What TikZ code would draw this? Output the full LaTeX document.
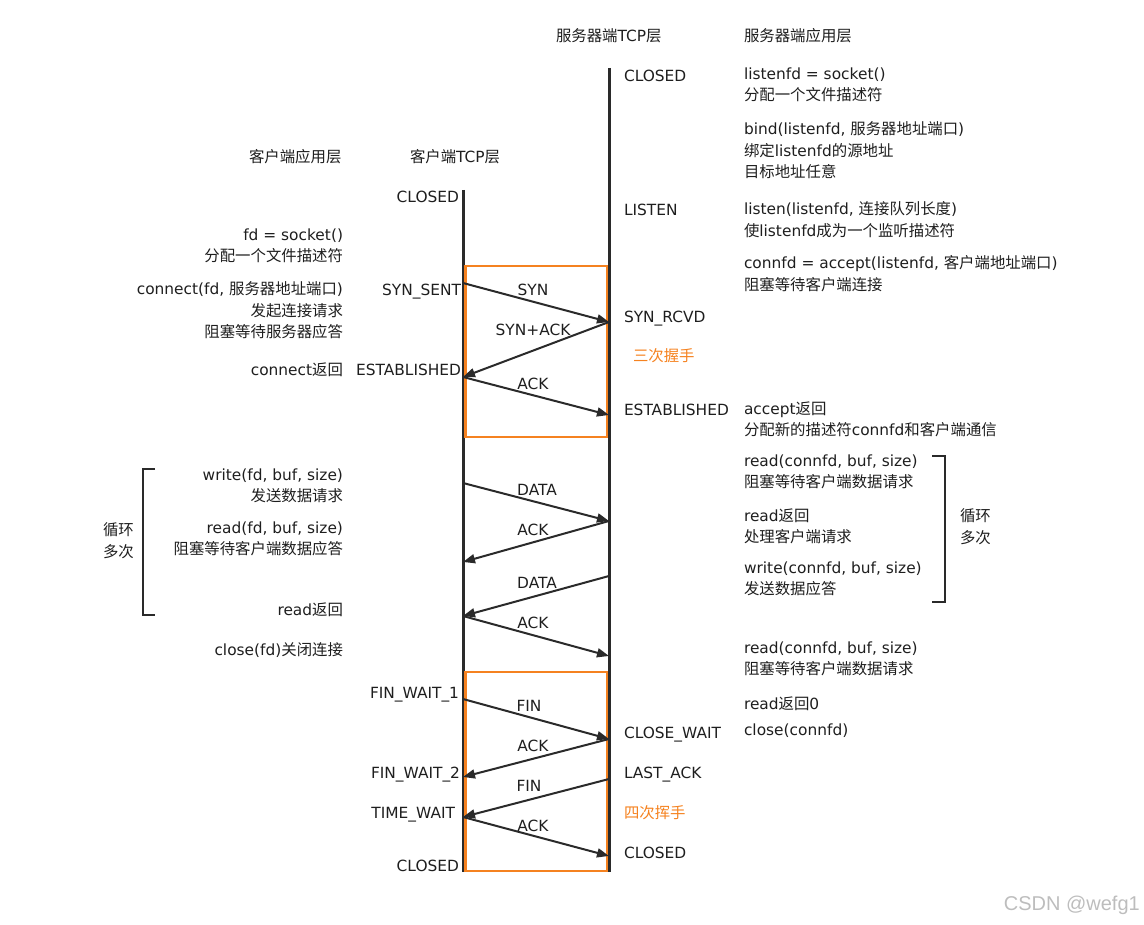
\documentclass[tikz,border=0pt]{standalone}
\usepackage{fontspec}
\setmainfont{DejaVu Sans}
\newfontfamily\cjk{Noto Sans CJK SC}
\newfontfamily\wmfont{Liberation Sans}
\usetikzlibrary{arrows.meta}
\newcommand\zh[1]{{\cjk #1}}
\newcommand\sr{\rule{0pt}{14pt}}
\definecolor{txt}{HTML}{1E1E1E}
\definecolor{ln}{HTML}{2A2A2A}
\definecolor{org}{HTML}{F58220}
\definecolor{wm}{HTML}{BDBDBD}
\begin{document}
\begin{tikzpicture}[x=1pt,y=-1pt,
  lbl/.style={inner sep=0pt, outer sep=0pt, font=\fontsize{15.4}{21.7}\selectfont, text=txt},
  lft/.style={lbl, align=left, anchor=north west, execute at begin node=\sr},
  rgt/.style={lbl, align=right, anchor=north east, execute at begin node=\sr},
  orangetxt/.style={lft, text=org},
  tcpline/.style={draw=ln, line width=3pt},
  msg/.style={draw=ln, line width=2pt, -{Triangle[length=12pt,width=9pt]}},
  hsbox/.style={draw=org, line width=2.4pt},
  brk/.style={draw=ln, line width=2pt},
]
\useasboundingbox (0,0) rectangle (1144,925);

% TCP life lines
\coordinate (ctop) at (463,190);
\coordinate (cbot) at (463,872);
\coordinate (stop) at (609,68);
\coordinate (sbot) at (609,872);
\draw[tcpline] (ctop) -- (cbot);
\draw[tcpline] (stop) -- (sbot);

% handshake boxes
\draw[hsbox] (465.5,266) rectangle (607,437);
\draw[hsbox] (465.5,672) rectangle (607,871);

% message end points
\coordinate (c1) at (463,283);
\coordinate (s1) at (609,322);
\coordinate (c2) at (463,377);
\coordinate (s2) at (609,415);
\coordinate (c3) at (463,483);
\coordinate (s3) at (609,521);
\coordinate (c4) at (463,562);
\coordinate (s4) at (609,576);
\coordinate (c5) at (463,616);
\coordinate (s5) at (609,656);
\coordinate (c6) at (463,699);
\coordinate (s6) at (609,739);
\coordinate (c7) at (463,777);
\coordinate (s7) at (609,779);
\coordinate (c8) at (463,817);
\coordinate (s8) at (609,856);

\draw[msg] (c1) -- (s1);
\draw[msg] (s1) -- (c2);
\draw[msg] (c2) -- (s2);
\draw[msg] (c3) -- (s3);
\draw[msg] (s3) -- (c4);
\draw[msg] (s4) -- (c5);
\draw[msg] (c5) -- (s5);
\draw[msg] (c6) -- (s6);
\draw[msg] (s6) -- (c7);
\draw[msg] (s7) -- (c8);
\draw[msg] (c8) -- (s8);

% message labels
\node[lbl] (m1) at (533,290) {SYN};
\node[lbl] (m2) at (533,330) {SYN+ACK};
\node[lbl] (m3) at (533,384) {ACK};
\node[lbl] (m4) at (537,490) {DATA};
\node[lbl] (m5) at (533,530) {ACK};
\node[lbl] (m6) at (537,583) {DATA};
\node[lbl] (m7) at (533,623) {ACK};
\node[lbl] (m8) at (529,706) {FIN};
\node[lbl] (m9) at (533,746) {ACK};
\node[lbl] (m10) at (529,786) {FIN};
\node[lbl] (m11) at (533,826) {ACK};

% headers
\node[lft] (h1) at (556,27.5) {\zh{服务器端}TCP\zh{层}};
\node[lft] (h2) at (744,27.5) {\zh{服务器端应用层}};
\node[lft] (h3) at (249,148.5) {\zh{客户端应用层}};
\node[lft] (h4) at (410,148.5) {\zh{客户端}TCP\zh{层}};

% server TCP states
\node[lft] (ss1) at (624,67.5) {CLOSED};
\node[lft] (ss2) at (624,201.5) {LISTEN};
\node[lft] (ss3) at (624,308.5) {SYN\_RCVD};
\node[orangetxt] (three) at (633,347.5) {\zh{三次握手}};
\node[lft] (ss4) at (624,401.5) {ESTABLISHED};
\node[lft] (ss5) at (624,724.5) {CLOSE\_WAIT};
\node[lft] (ss6) at (624,764.5) {LAST\_ACK};
\node[orangetxt] (four) at (624,804.5) {\zh{四次挥手}};
\node[lft] (ss7) at (624,844.5) {CLOSED};

% server application
\node[lft] (a1) at (744,67.5) {listenfd = socket()\\\zh{分配一个文件描述符}};
\node[lft] (a2) at (744,121.5) {bind(listenfd, \zh{服务器地址端口})\\\zh{绑定}listenfd\zh{的源地址}\\\zh{目标地址任意}};
\node[lft] (a3) at (744,201.5) {listen(listenfd, \zh{连接队列长度})\\\zh{使}listenfd\zh{成为一个监听描述符}};
\node[lft] (a4) at (744,255.5) {connfd = accept(listenfd, \zh{客户端地址端口})\\\zh{阻塞等待客户端连接}};
\node[lft] (a5) at (744,401.5) {accept\zh{返回}\\\zh{分配新的描述符}connfd\zh{和客户端通信}};
\node[lft] (a6) at (744,454.5) {read(connfd, buf, size)\\\zh{阻塞等待客户端数据请求}};
\node[lft] (a7) at (744,508.5) {read\zh{返回}\\\zh{处理客户端请求}};
\node[lft] (a8) at (744,561.5) {write(connfd, buf, size)\\\zh{发送数据应答}};
\node[lft] (a9) at (744,641.5) {read(connfd, buf, size)\\\zh{阻塞等待客户端数据请求}};
\node[lft] (a10) at (744,695.5) {read\zh{返回}0};
\node[lft] (a11) at (744,721.5) {close(connfd)};

% client TCP states
\node[rgt] (cs1) at (459,188.5) {CLOSED};
\node[rgt] (cs2) at (461,281.5) {SYN\_SENT};
\node[rgt] (cs3) at (461,361.5) {ESTABLISHED};
\node[rgt] (cs4) at (459,684.5) {FIN\_WAIT\_1};
\node[rgt] (cs5) at (460,764.5) {FIN\_WAIT\_2};
\node[rgt] (cs6) at (455,804.5) {TIME\_WAIT};
\node[rgt] (cs7) at (459,857.5) {CLOSED};

% client application
\node[rgt] (b1) at (343,228.5) {fd = socket()\\\zh{分配一个文件描述符}};
\node[rgt] (b2) at (343,281.5) {connect(fd, \zh{服务器地址端口})\\\zh{发起连接请求}\\\zh{阻塞等待服务器应答}};
\node[rgt] (b3) at (343,361.5) {connect\zh{返回}};
\node[rgt] (b4) at (343,468.5) {write(fd, buf, size)\\\zh{发送数据请求}};
\node[rgt] (b5) at (343,521.5) {read(fd, buf, size)\\\zh{阻塞等待客户端数据应答}};
\node[rgt] (b6) at (343,601.5) {read\zh{返回}};
\node[rgt] (b7) at (343,641.5) {close(fd)\zh{关闭连接}};

% loop brackets
\draw[brk] (155,469) -- (143,469) -- (143,615) -- (155,615);
\node[lft] (loopl) at (103,522.5) {\zh{循环}\\\zh{多次}};
\draw[brk] (932,456) -- (945,456) -- (945,602) -- (932,602);
\node[lft] (loopr) at (960,508.5) {\zh{循环}\\\zh{多次}};

% watermark
\node[inner sep=0pt, anchor=east, text=wm, font=\wmfont\fontsize{20}{24}\selectfont] (wmk) at (1140,905) {CSDN @wefg1};
\end{tikzpicture}
\end{document}
